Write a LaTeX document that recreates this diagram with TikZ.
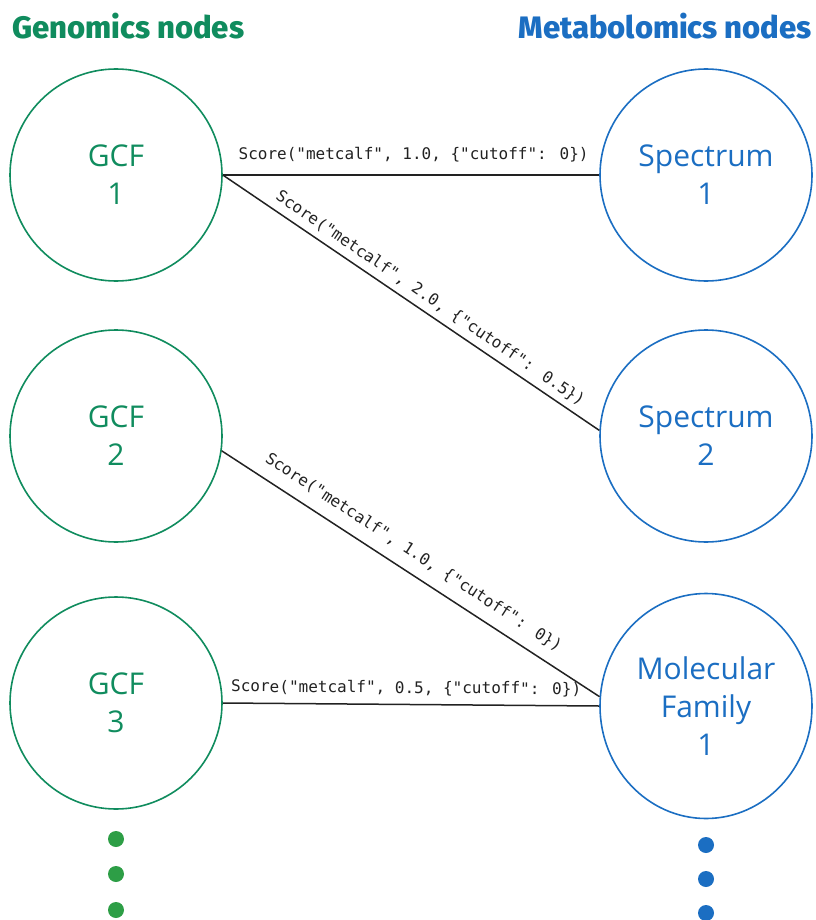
\documentclass[tikz,border=0pt]{standalone}
\usepackage{fontspec}
\usetikzlibrary{shapes.geometric}
\setmainfont{Open Sans}
\newfontfamily\headfont{Fira Sans}[BoldFont={* ExtraBold}]
\newfontfamily\monofont{DejaVu Sans Mono}
\definecolor{gen}{RGB}{16,140,94}
\definecolor{met}{RGB}{27,110,194}
\definecolor{gdot}{RGB}{45,158,70}
\definecolor{bdot}{RGB}{27,110,194}
\definecolor{edge}{RGB}{34,34,34}
\tikzset{
  node/.style={circle, draw, line width=1.6pt, minimum size=212pt, inner sep=0pt, align=center,
    font=\fontsize{30}{38}\selectfont},
  gnode/.style={node, draw=gen, text=gen},
  mnode/.style={node, draw=met, text=met},
  heading/.style={font=\headfont\bfseries\fontsize{31}{36}\selectfont, inner sep=0pt},
  link/.style={draw=edge, line width=1.5pt},
  lbl/.style={font=\monofont\fontsize{16}{18}\selectfont, text=edge, inner sep=0pt, sloped},
}
\begin{document}
\begin{tikzpicture}[x=1pt,y=-1pt]
\useasboundingbox (0,0) rectangle (815,920);
\node[heading, text=gen, anchor=base west] (hg) at (12,39) {Genomics nodes};
\node[heading, text=met, anchor=base east] (hm) at (812,39) {Metabolomics nodes};

\node[gnode] (g1) at (116,175) {GCF\\1};
\node[gnode] (g2) at (116,436) {GCF\\2};
\node[gnode] (g3) at (116,703) {GCF\\3};

\node[mnode] (s1) at (706,175) {Spectrum\\1};
\node[mnode] (s2) at (706,436) {Spectrum\\2};
\node[mnode, ellipse, minimum width=212pt, minimum height=225pt] (mf) at (706,706) {Molecular\\Family\\1};

\draw[link] (g1.east) -- node[lbl, pos=0.507, above=12pt] {Score("metcalf", 1.0, \{"cutoff": 0\})} (s1.west);
\draw[link] (g1.east) -- node[lbl, pos=0.53, above=6pt] {Score("metcalf", 2.0, \{"cutoff": 0.5\})} (s2.177);
\draw[link] (g2.-8) -- node[lbl, pos=0.48, above=11pt] {Score("metcalf", 1.0, \{"cutoff": 0\})} (mf.175);
\draw[link] (g3.east) -- node[lbl, pos=0.487, above=8pt] {Score("metcalf", 0.5, \{"cutoff": 0\})} (mf.west);

\foreach \y in {839,874,910} \fill[gdot] (116,\y) circle (8pt);
\foreach \y in {845,879,913} \fill[bdot] (706,\y) circle (8pt);
\end{tikzpicture}
\end{document}
